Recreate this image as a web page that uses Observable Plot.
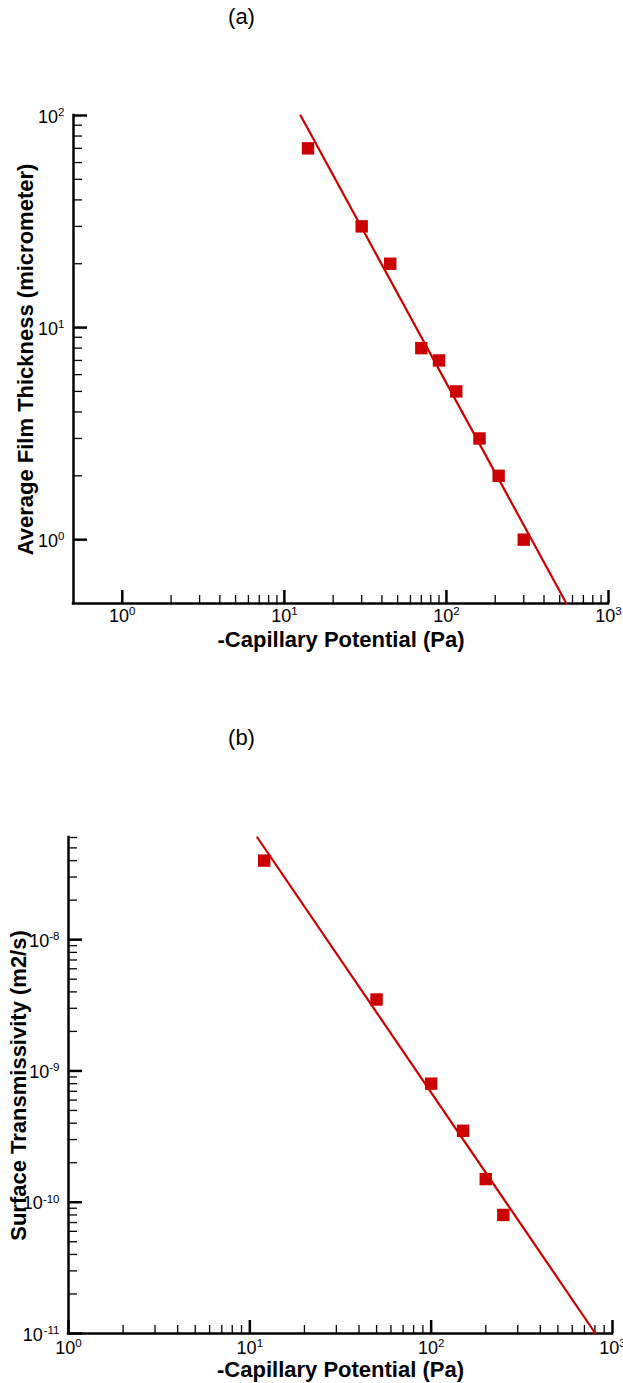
<!DOCTYPE html>
<html><head><meta charset="utf-8">
<script src="https://cdn.jsdelivr.net/npm/d3@7"></script>
<script src="https://cdn.jsdelivr.net/npm/@observablehq/plot@0.6"></script>
<style>body{margin:0;background:#fff}#chart svg{display:block}</style>
</head><body><div id="chart"></div>
<script>
// ---- Data ----
const aPotential = [14, 30, 45, 70, 90, 115, 160, 210, 300];
const aThickness = [70, 30, 20, 8, 7, 5, 3, 2, 1];
const aFitPotential = [12.6, 550];
const aFitThickness = [100, 0.5];

const bPotential = [12, 50, 100, 150, 200, 250];
const bTransmissivity = [4e-8, 3.5e-9, 8e-10, 3.5e-10, 1.5e-10, 8e-11];
const bFitPotential = [11, 805];
const bFitTransmissivity = [6e-8, 1e-11];

// ---- Ticks ----
const aXTicks = [1, 10, 100, 1000], aXTickExp = ["0", "1", "2", "3"];
const aYTicks = [1, 10, 100], aYTickExp = ["0", "1", "2"];
const bXTicks = [1, 10, 100, 1000], bXTickExp = ["0", "1", "2", "3"];
const bYTicks = [1e-11, 1e-10, 1e-9, 1e-8], bYTickExp = ["-11", "-10", "-9", "-8"];
const minorMultipliers = [2, 3, 4, 5, 6, 7, 8, 9];
const aXMinorDecades = [1, 10, 100];
const aYMinorDecades = [1, 10];
const bXMinorDecades = [1, 10, 100];
const bYMinorDecades = [1e-11, 1e-10, 1e-9, 1e-8];

const RED = "#cc0000";
const FONT = "'Liberation Sans', Arial, Helvetica, sans-serif";

function minors(decades, max) {
  const out = [];
  for (const d of decades) for (const m of minorMultipliers) {
    const v = +(m * d).toPrecision(6);
    if (v <= max * 1.0001) out.push(v);
  }
  return out;
}

function panel(c) {
  const x0 = c.xDomain[0], y0 = c.yDomain[0];
  const font = 18, expFont = 11.5;
  const tenW = font * 1.112;
  const expW = s => [...s].reduce((a, ch) => a + (ch === "-" ? 0.333 : 0.556) * expFont, 0);
  const xLab = c.xTicks.map((v, i) => ({v, e: c.xExp[i]}));
  const yLab = c.yTicks.map((v, i) => ({v, e: c.yExp[i]}));
  const marks = [];
  // axis lines
  marks.push(Plot.ruleY([y0], {y: d => d, stroke: "black", strokeWidth: 2.5, strokeLinecap: "square"}));
  marks.push(Plot.ruleX([x0], {x: d => d, stroke: "black", strokeWidth: 2.5, strokeLinecap: "square"}));
  // ticks (inward)
  marks.push(Plot.ruleX(c.xTicks, {x: d => d, y1: () => y0, y2: () => y0, insetTop: -13, insetBottom: 0, stroke: "black", strokeWidth: 2.5}));
  marks.push(Plot.ruleX(c.xMinor, {x: d => d, y1: () => y0, y2: () => y0, insetTop: -8, insetBottom: 0, stroke: "black", strokeWidth: 1.3}));
  marks.push(Plot.ruleY(c.yTicks, {y: d => d, x1: () => x0, x2: () => x0, insetRight: -14, insetLeft: 0, stroke: "black", strokeWidth: 2.5}));
  marks.push(Plot.ruleY(c.yMinor, {y: d => d, x1: () => x0, x2: () => x0, insetRight: -9, insetLeft: 0, stroke: "black", strokeWidth: 1.3}));
  // x tick labels
  for (const [w, group] of d3.group(xLab, d => expW(d.e))) {
    const dx = (tenW - w) / 2;
    marks.push(Plot.text(group, {x: "v", text: () => "10", frameAnchor: "bottom", textAnchor: "end", lineAnchor: "bottom", dx, dy: c.xLabDy, fontSize: font}));
    marks.push(Plot.text(group, {x: "v", text: "e", frameAnchor: "bottom", textAnchor: "start", lineAnchor: "bottom", dx, dy: c.xLabDy - 6.5, fontSize: expFont}));
  }
  // y tick labels
  for (const [w, group] of d3.group(yLab, d => expW(d.e))) {
    marks.push(Plot.text(group, {y: "v", text: () => "10", frameAnchor: "left", textAnchor: "end", lineAnchor: "bottom", dx: -9 - w, dy: 7, fontSize: font}));
    marks.push(Plot.text(group, {y: "v", text: "e", frameAnchor: "left", textAnchor: "end", lineAnchor: "bottom", dx: -9, dy: 0.5, fontSize: expFont}));
  }
  // axis titles
  marks.push(Plot.text([c.xLabel], {text: d => d, frameAnchor: "bottom", textAnchor: "middle", lineAnchor: "bottom", dy: 43, fontSize: 22, fontWeight: "bold"}));
  marks.push(Plot.text([c.yLabel], {text: d => d, frameAnchor: "left", rotate: -90, textAnchor: "middle", lineAnchor: "middle", dx: c.yLabDx, fontSize: 22, fontWeight: "bold"}));
  // panel title
  marks.push(Plot.text([c.title], {text: d => d, frameAnchor: "top", textAnchor: "middle", lineAnchor: "bottom", dx: c.titleDx, dy: c.titleDy, fontSize: 22}));
  // fit line and data
  marks.push(Plot.line(c.fitX.map((x, i) => ({x, y: c.fitY[i]})), {x: "x", y: "y", stroke: RED, strokeWidth: 2.2}));
  marks.push(Plot.dot(c.ptX.map((x, i) => ({x, y: c.ptY[i]})), {x: "x", y: "y", symbol: "square", r: 7, fill: RED, stroke: "none"}));

  return Plot.plot({
    width: 623, height: c.height,
    marginTop: c.margin[0], marginRight: c.margin[1], marginBottom: c.margin[2], marginLeft: c.margin[3],
    x: {type: "log", domain: c.xDomain, axis: null},
    y: {type: "log", domain: c.yDomain, axis: null},
    style: {fontFamily: FONT, background: "white", overflow: "visible", color: "black"},
    marks
  });
}

const chart = document.getElementById("chart");
chart.append(panel({
  height: 700, margin: [115, 15, 97, 73],
  xDomain: [0.5, 1000], yDomain: [0.5, 100],
  xTicks: aXTicks, xExp: aXTickExp, yTicks: aYTicks, yExp: aYTickExp,
  xMinor: minors(aXMinorDecades, 1000), yMinor: minors(aYMinorDecades, 100),
  xLabDy: 18, yLabDx: -48,
  xLabel: "-Capillary Potential (Pa)", yLabel: "Average Film Thickness (micrometer)",
  title: "(a)", titleDx: -99.5, titleDy: -91.5,
  fitX: aFitPotential, fitY: aFitThickness, ptX: aPotential, ptY: aThickness
}));
chart.append(panel({
  height: 683, margin: [137, 11, 50, 68],
  xDomain: [1, 1000], yDomain: [1e-11, 6e-8],
  xTicks: bXTicks, xExp: bXTickExp, yTicks: bYTicks, yExp: bYTickExp,
  xMinor: minors(bXMinorDecades, 1000), yMinor: minors(bYMinorDecades, 6e-8),
  xLabDy: 20, yLabDx: -50,
  xLabel: "-Capillary Potential (Pa)", yLabel: "Surface Transmissivity (m2/s)",
  title: "(b)", titleDx: -99, titleDy: -93,
  fitX: bFitPotential, fitY: bFitTransmissivity, ptX: bPotential, ptY: bTransmissivity
}));
</script>
</body></html>
